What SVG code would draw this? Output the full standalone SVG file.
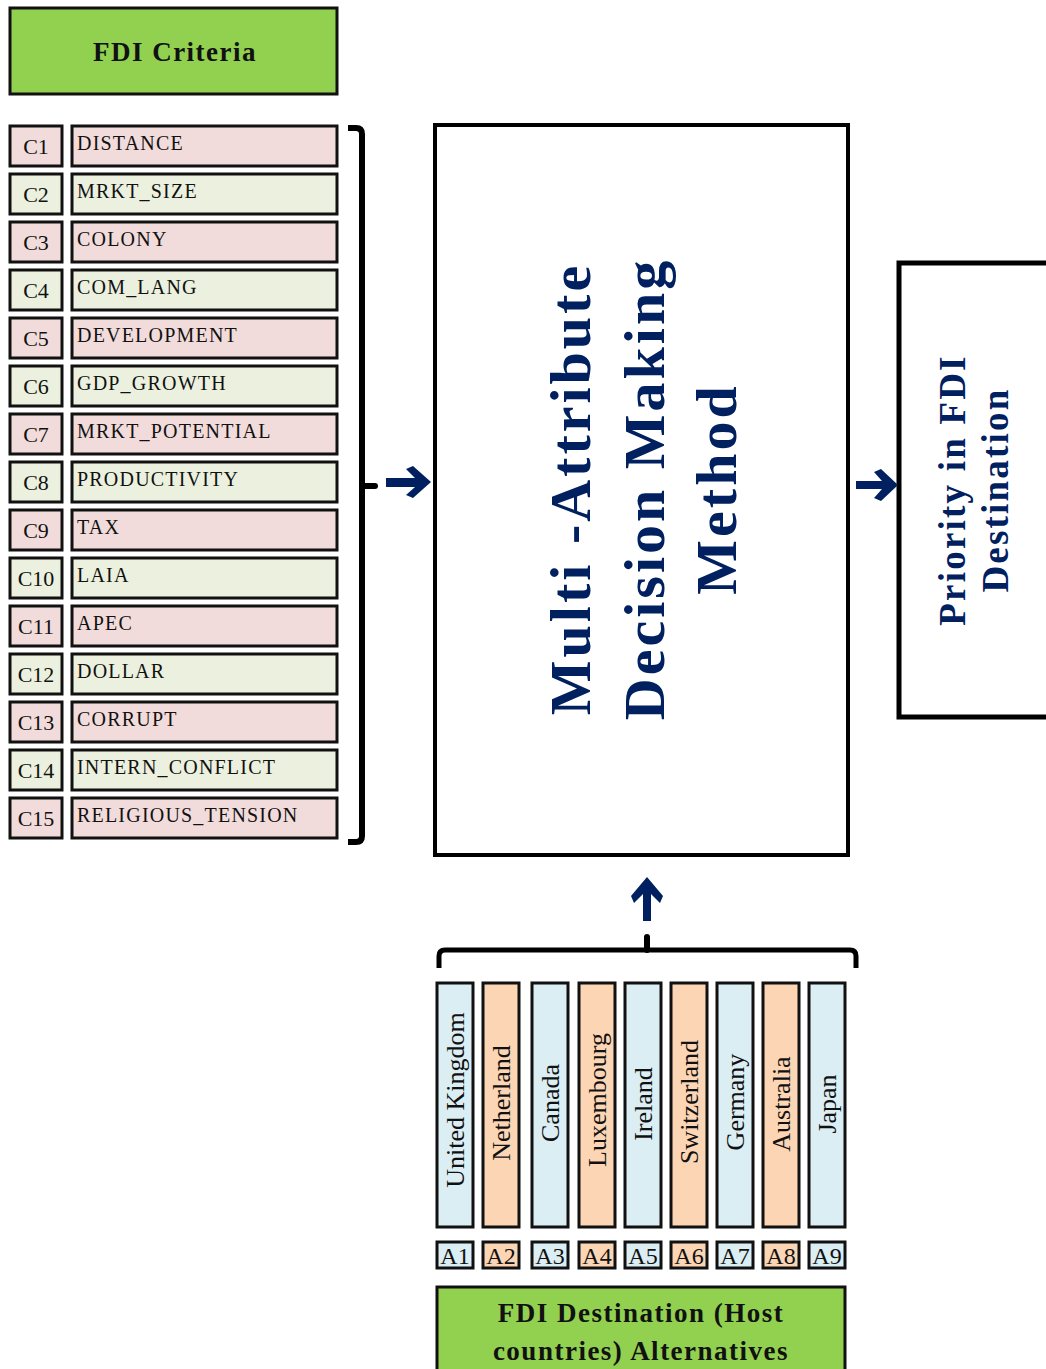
<svg xmlns="http://www.w3.org/2000/svg" width="1046" height="1369" viewBox="0 0 1046 1369">
<style>
.t{font-family:"Liberation Serif","Times New Roman",serif;fill:#111}
.cb{stroke:#111;stroke-width:3}
.pk{fill:#f2dcdb}
.gn{fill:#ebf1de}
.bl{fill:#dbeef3}
.or{fill:#fcd5b4}
.big{fill:#92d050;stroke:#111;stroke-width:3}
.lab{font-size:20px;letter-spacing:1.2px}
.cid{font-size:22px}
.ctry{font-size:26px}
.aid{font-size:24px}
.bt{font-family:"Liberation Serif","Times New Roman",serif;font-weight:bold;fill:#002060}
.arr{fill:#002060}
</style>
<rect width="1046" height="1369" fill="#fff"/>
<g id="criteria-title">
<rect class="big" x="10" y="8" width="327" height="86"/>
<text class="t" x="175" y="61" font-size="27" font-weight="bold" text-anchor="middle" letter-spacing="1.5">FDI Criteria</text>
</g>
<g id="criteria">
<g id="c1"><rect class="cb pk" x="10" y="126" width="52" height="40"/><text class="t cid" x="36" y="154" text-anchor="middle">C1</text><rect class="cb pk" x="72" y="126" width="265" height="40"/><text class="t lab" x="77" y="150">DISTANCE</text></g>
<g id="c2"><rect class="cb gn" x="10" y="174" width="52" height="40"/><text class="t cid" x="36" y="202" text-anchor="middle">C2</text><rect class="cb gn" x="72" y="174" width="265" height="40"/><text class="t lab" x="77" y="198">MRKT_SIZE</text></g>
<g id="c3"><rect class="cb pk" x="10" y="222" width="52" height="40"/><text class="t cid" x="36" y="250" text-anchor="middle">C3</text><rect class="cb pk" x="72" y="222" width="265" height="40"/><text class="t lab" x="77" y="246">COLONY</text></g>
<g id="c4"><rect class="cb gn" x="10" y="270" width="52" height="40"/><text class="t cid" x="36" y="298" text-anchor="middle">C4</text><rect class="cb gn" x="72" y="270" width="265" height="40"/><text class="t lab" x="77" y="294">COM_LANG</text></g>
<g id="c5"><rect class="cb pk" x="10" y="318" width="52" height="40"/><text class="t cid" x="36" y="346" text-anchor="middle">C5</text><rect class="cb pk" x="72" y="318" width="265" height="40"/><text class="t lab" x="77" y="342">DEVELOPMENT</text></g>
<g id="c6"><rect class="cb gn" x="10" y="366" width="52" height="40"/><text class="t cid" x="36" y="394" text-anchor="middle">C6</text><rect class="cb gn" x="72" y="366" width="265" height="40"/><text class="t lab" x="77" y="390">GDP_GROWTH</text></g>
<g id="c7"><rect class="cb pk" x="10" y="414" width="52" height="40"/><text class="t cid" x="36" y="442" text-anchor="middle">C7</text><rect class="cb pk" x="72" y="414" width="265" height="40"/><text class="t lab" x="77" y="438">MRKT_POTENTIAL</text></g>
<g id="c8"><rect class="cb gn" x="10" y="462" width="52" height="40"/><text class="t cid" x="36" y="490" text-anchor="middle">C8</text><rect class="cb gn" x="72" y="462" width="265" height="40"/><text class="t lab" x="77" y="486">PRODUCTIVITY</text></g>
<g id="c9"><rect class="cb pk" x="10" y="510" width="52" height="40"/><text class="t cid" x="36" y="538" text-anchor="middle">C9</text><rect class="cb pk" x="72" y="510" width="265" height="40"/><text class="t lab" x="77" y="534">TAX</text></g>
<g id="c10"><rect class="cb gn" x="10" y="558" width="52" height="40"/><text class="t cid" x="36" y="586" text-anchor="middle">C10</text><rect class="cb gn" x="72" y="558" width="265" height="40"/><text class="t lab" x="77" y="582">LAIA</text></g>
<g id="c11"><rect class="cb pk" x="10" y="606" width="52" height="40"/><text class="t cid" x="36" y="634" text-anchor="middle">C11</text><rect class="cb pk" x="72" y="606" width="265" height="40"/><text class="t lab" x="77" y="630">APEC</text></g>
<g id="c12"><rect class="cb gn" x="10" y="654" width="52" height="40"/><text class="t cid" x="36" y="682" text-anchor="middle">C12</text><rect class="cb gn" x="72" y="654" width="265" height="40"/><text class="t lab" x="77" y="678">DOLLAR</text></g>
<g id="c13"><rect class="cb pk" x="10" y="702" width="52" height="40"/><text class="t cid" x="36" y="730" text-anchor="middle">C13</text><rect class="cb pk" x="72" y="702" width="265" height="40"/><text class="t lab" x="77" y="726">CORRUPT</text></g>
<g id="c14"><rect class="cb gn" x="10" y="750" width="52" height="40"/><text class="t cid" x="36" y="778" text-anchor="middle">C14</text><rect class="cb gn" x="72" y="750" width="265" height="40"/><text class="t lab" x="77" y="774">INTERN_CONFLICT</text></g>
<g id="c15"><rect class="cb pk" x="10" y="798" width="52" height="40"/><text class="t cid" x="36" y="826" text-anchor="middle">C15</text><rect class="cb pk" x="72" y="798" width="265" height="40"/><text class="t lab" x="77" y="822">RELIGIOUS_TENSION</text></g>
</g>
<g id="mcdm">
<rect x="435" y="125" width="413" height="730" fill="#fff" stroke="#000" stroke-width="4"/>
<g transform="translate(642,489) rotate(-90)">
<text class="bt" x="0" y="-52" font-size="58" letter-spacing="3" text-anchor="middle">Multi -Attribute</text>
<text class="bt" x="0" y="22" font-size="58" letter-spacing="3" text-anchor="middle">Decision Making</text>
<text class="bt" x="0" y="94" font-size="58" letter-spacing="3" text-anchor="middle">Method</text>
</g>
</g>
<g id="priority">
<rect x="899" y="263" width="160" height="454" fill="#fff" stroke="#000" stroke-width="5"/>
<g transform="translate(975,490) rotate(-90)">
<text class="bt" x="0" y="-10" font-size="37" letter-spacing="2.2" text-anchor="middle">Priority in FDI</text>
<text class="bt" x="0" y="33" font-size="37" letter-spacing="2.2" text-anchor="middle">Destination</text>
</g>
</g>
<g id="alternatives">
<g id="a1"><rect class="cb bl" x="437" y="983" width="36" height="244"/><text class="t ctry" transform="translate(464,1100) rotate(-90)" text-anchor="middle">United Kingdom</text><rect class="cb bl" x="437" y="1242" width="36" height="26"/><text class="t aid" x="455" y="1264" text-anchor="middle">A1</text></g>
<g id="a2"><rect class="cb or" x="483" y="983" width="36" height="244"/><text class="t ctry" transform="translate(510,1103) rotate(-90)" text-anchor="middle">Netherland</text><rect class="cb or" x="483" y="1242" width="36" height="26"/><text class="t aid" x="501" y="1264" text-anchor="middle">A2</text></g>
<g id="a3"><rect class="cb bl" x="532" y="983" width="36" height="244"/><text class="t ctry" transform="translate(559,1103) rotate(-90)" text-anchor="middle">Canada</text><rect class="cb bl" x="532" y="1242" width="36" height="26"/><text class="t aid" x="550" y="1264" text-anchor="middle">A3</text></g>
<g id="a4"><rect class="cb or" x="579" y="983" width="36" height="244"/><text class="t ctry" transform="translate(606,1100) rotate(-90)" text-anchor="middle">Luxembourg</text><rect class="cb or" x="579" y="1242" width="36" height="26"/><text class="t aid" x="597" y="1264" text-anchor="middle">A4</text></g>
<g id="a5"><rect class="cb bl" x="625" y="983" width="36" height="244"/><text class="t ctry" transform="translate(652,1104) rotate(-90)" text-anchor="middle">Ireland</text><rect class="cb bl" x="625" y="1242" width="36" height="26"/><text class="t aid" x="643" y="1264" text-anchor="middle">A5</text></g>
<g id="a6"><rect class="cb or" x="671" y="983" width="36" height="244"/><text class="t ctry" transform="translate(698,1102) rotate(-90)" text-anchor="middle">Switzerland</text><rect class="cb or" x="671" y="1242" width="36" height="26"/><text class="t aid" x="689" y="1264" text-anchor="middle">A6</text></g>
<g id="a7"><rect class="cb bl" x="717" y="983" width="36" height="244"/><text class="t ctry" transform="translate(744,1102) rotate(-90)" text-anchor="middle">Germany</text><rect class="cb bl" x="717" y="1242" width="36" height="26"/><text class="t aid" x="735" y="1264" text-anchor="middle">A7</text></g>
<g id="a8"><rect class="cb or" x="763" y="983" width="36" height="244"/><text class="t ctry" transform="translate(790,1104) rotate(-90)" text-anchor="middle">Australia</text><rect class="cb or" x="763" y="1242" width="36" height="26"/><text class="t aid" x="781" y="1264" text-anchor="middle">A8</text></g>
<g id="a9"><rect class="cb bl" x="809" y="983" width="36" height="244"/><text class="t ctry" transform="translate(836,1104) rotate(-90)" text-anchor="middle">Japan</text><rect class="cb bl" x="809" y="1242" width="36" height="26"/><text class="t aid" x="827" y="1264" text-anchor="middle">A9</text></g>
</g>
<g id="alt-title">
<rect class="big" x="437" y="1287" width="408" height="90"/>
<text class="t" x="641" y="1322" font-size="27" font-weight="bold" text-anchor="middle" letter-spacing="1.5">FDI Destination (Host</text>
<text class="t" x="641" y="1360" font-size="27" font-weight="bold" text-anchor="middle" letter-spacing="1.5">countries) Alternatives</text>
</g>
<g id="connectors">
<path d="M348,128 H356 Q362,128 362,134 V836 Q362,842 356,842 H348" fill="none" stroke="#000" stroke-width="6"/>
<path d="M362,486 H375" fill="none" stroke="#000" stroke-width="6" stroke-linecap="round"/>
<path class="arr" d="M386,478 H415 L406,469 L413,466 L431,482 L413,498 L406,495 L415,487 H386 Z"/>
<path class="arr" d="M856,481 H882 L874,472 L881,469 L898,485 L881,501 L874,498 L882,489 H856 Z"/>
<path d="M439,968 V956 Q439,950 445,950 H850 Q856,950 856,956 V968" fill="none" stroke="#000" stroke-width="5"/>
<path d="M647,950 V937" fill="none" stroke="#000" stroke-width="6" stroke-linecap="round"/>
<path class="arr" d="M643,921 V894 L634,903 L631,896 L647,877 L663,896 L660,903 L651,894 V921 Z"/>
</g>
</svg>
